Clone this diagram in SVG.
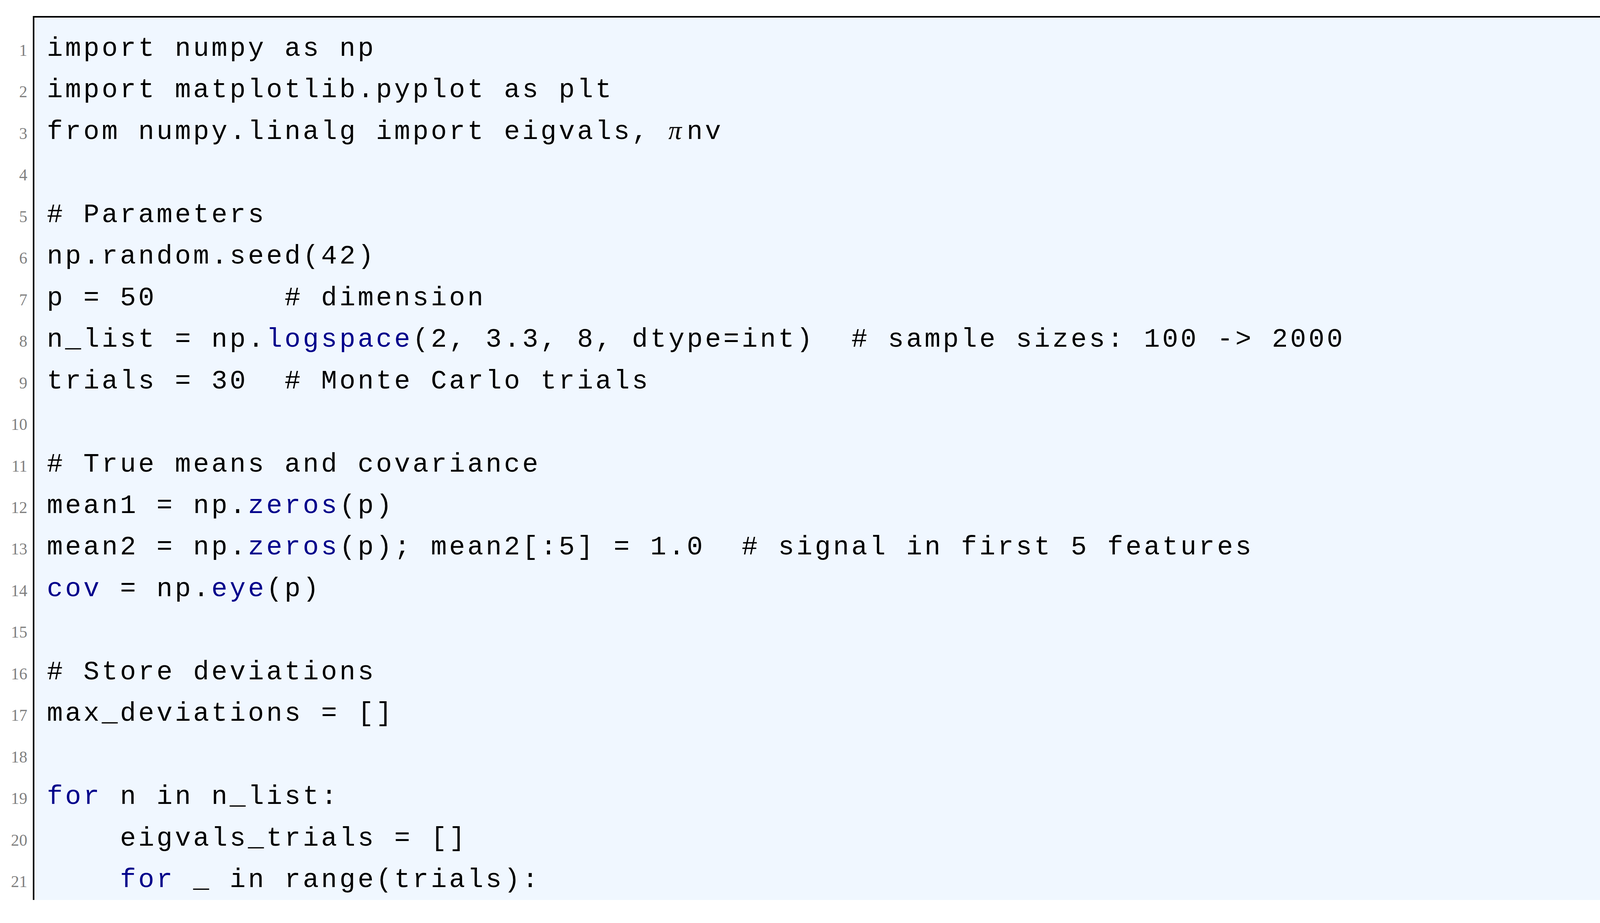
<svg xmlns="http://www.w3.org/2000/svg" width="4371" height="2364" viewBox="0 0 4371 2364">
<style>
.c{font-family:"Liberation Mono",monospace;font-size:68px;letter-spacing:6px;fill:#000;white-space:pre}
.k{fill:#00008B}
.pi{font-family:"Liberation Serif",serif;font-style:italic;letter-spacing:0}
.n{font-family:"Liberation Serif",serif;font-size:42px;fill:#808080;text-anchor:end}
</style>
<rect x="0" y="0" width="4371" height="2364" fill="#fff"/>
<g id="frame">
<rect x="86" y="43" width="4235" height="2262" fill="#F0F7FF"/>
<path d="M86 2305 V43 H4321 V2305" fill="none" stroke="#000" stroke-width="4"/>
</g>
<g id="linenumbers">
<text class="n" x="70" y="143">1</text>
<text class="n" x="70" y="249">2</text>
<text class="n" x="70" y="356">3</text>
<text class="n" x="70" y="462">4</text>
<text class="n" x="70" y="569">5</text>
<text class="n" x="70" y="675">6</text>
<text class="n" x="70" y="782">7</text>
<text class="n" x="70" y="888">8</text>
<text class="n" x="70" y="995">9</text>
<text class="n" x="70" y="1101">10</text>
<text class="n" x="70" y="1208">11</text>
<text class="n" x="70" y="1314">12</text>
<text class="n" x="70" y="1420">13</text>
<text class="n" x="70" y="1527">14</text>
<text class="n" x="70" y="1633">15</text>
<text class="n" x="70" y="1740">16</text>
<text class="n" x="70" y="1846">17</text>
<text class="n" x="70" y="1953">18</text>
<text class="n" x="70" y="2059">19</text>
<text class="n" x="70" y="2166">20</text>
<text class="n" x="70" y="2272">21</text>
</g>
<g id="code" xml:space="preserve">
<text class="c" x="120" y="143">import numpy as np</text>
<text class="c" x="120" y="249">import matplotlib.pyplot as plt</text>
<text class="c" x="120" y="356">from numpy.linalg import eigvals, </text>
<text class="c" x="1711" y="356"><tspan class="pi">π</tspan></text>
<text class="c" x="1758" y="356">nv</text>
<text class="c" x="120" y="569"># Parameters</text>
<text class="c" x="120" y="675">np.random.seed(42)</text>
<text class="c" x="120" y="782">p = 50       # dimension</text>
<text class="c" x="120" y="888">n_list = np.<tspan class="k">logspace</tspan>(2, 3.3, 8, dtype=int)  # sample sizes: 100 -&gt; 2000</text>
<text class="c" x="120" y="995">trials = 30  # Monte Carlo trials</text>
<text class="c" x="120" y="1208"># True means and covariance</text>
<text class="c" x="120" y="1314">mean1 = np.<tspan class="k">zeros</tspan>(p)</text>
<text class="c" x="120" y="1420">mean2 = np.<tspan class="k">zeros</tspan>(p); mean2[:5] = 1.0  # signal in first 5 features</text>
<text class="c" x="120" y="1527"><tspan class="k">cov</tspan> = np.<tspan class="k">eye</tspan>(p)</text>
<text class="c" x="120" y="1740"># Store deviations</text>
<text class="c" x="120" y="1846">max_deviations = []</text>
<text class="c" x="120" y="2059"><tspan class="k">for</tspan> n in n_list:</text>
<text class="c" x="120" y="2166">    eigvals_trials = []</text>
<text class="c" x="120" y="2272">    <tspan class="k">for</tspan> _ in range(trials):</text>
</g>
</svg>
